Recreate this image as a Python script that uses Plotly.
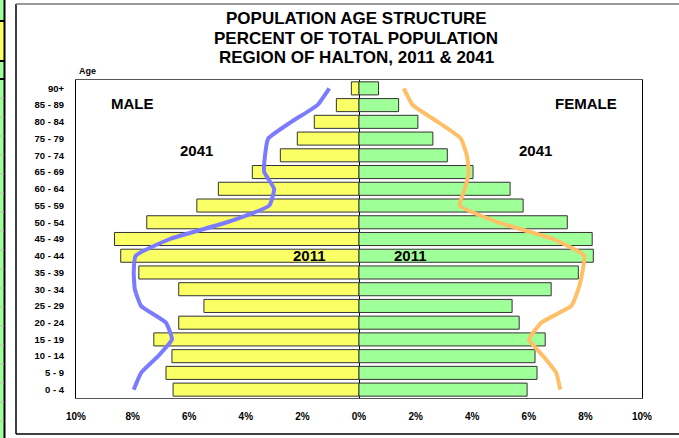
import plotly.graph_objects as go

# ---------------- data ----------------
ages = ["0 - 4", "5 - 9", "10 - 14", "15 - 19", "20 - 24", "25 - 29", "30 - 34",
        "35 - 39", "40 - 44", "45 - 49", "50 - 54", "55 - 59", "60 - 64",
        "65 - 69", "70 - 74", "75 - 79", "80 - 84", "85 - 89", "90+"]

male_2011 = [6.57, 6.82, 6.61, 7.25, 6.37, 5.48, 6.37, 7.78, 8.42, 8.64,
             7.50, 5.73, 4.97, 3.77, 2.78, 2.18, 1.58, 0.80, 0.27]
female_2011 = [5.94, 6.29, 6.22, 6.58, 5.66, 5.41, 6.79, 7.75, 8.28, 8.24,
               7.36, 5.80, 5.34, 4.03, 3.12, 2.61, 2.08, 1.40, 0.69]
male_2041 = [7.96, 7.70, 7.10, 6.61, 6.82, 7.70, 7.92, 7.96, 7.89, 6.68,
             4.66, 3.17, 3.00, 3.35, 3.32, 3.21, 2.39, 1.47, 1.05]
female_2041 = [7.11, 6.97, 6.51, 6.01, 6.44, 7.50, 7.75, 7.89, 7.96, 6.86,
               4.91, 3.56, 3.74, 3.88, 3.81, 3.60, 2.78, 1.90, 1.58]

x_tick_vals = [-10, -8, -6, -4, -2, 0, 2, 4, 6, 8, 10]
x_tick_text = ["10%", "8%", "6%", "4%", "2%", "0%", "2%", "4%", "6%", "8%", "10%"]

title_lines = ["POPULATION AGE STRUCTURE", "PERCENT OF TOTAL POPULATION",
               "REGION OF HALTON, 2011 & 2041"]

# ---------------- layout geometry ----------------
W, H = 679, 438
L, R, T, B = 76, 642, 80, 398
FONT = "Liberation Sans, Arial, sans-serif"


def px(x):
    return (x - L) / (R - L)


def py(y):
    return (B - y) / (B - T)


fig = go.Figure()

fig.add_trace(go.Bar(
    y=ages, x=[-v for v in male_2011], orientation="h", width=0.78,
    marker=dict(color="#FAFF66", line=dict(color="#333333", width=1)),
    name="Male 2011", hoverinfo="skip"))
fig.add_trace(go.Bar(
    y=ages, x=female_2011, orientation="h", width=0.78,
    marker=dict(color="#9FFF99", line=dict(color="#333333", width=1)),
    name="Female 2011", hoverinfo="skip"))
fig.add_trace(go.Scatter(
    y=ages, x=[-v for v in male_2041], mode="lines",
    line=dict(color="#7B7BFF", width=4, shape="spline", smoothing=0.4),
    name="Male 2041"))
fig.add_trace(go.Scatter(
    y=ages, x=female_2041, mode="lines",
    line=dict(color="#FFBF66", width=4, shape="spline", smoothing=0.4),
    name="Female 2041"))

shapes = []
# left decorative strip (spreadsheet cells)
shapes.append(dict(type="rect", xref="paper", yref="paper",
                   x0=px(0), x1=px(4), y0=py(0), y1=py(H),
                   fillcolor="#9FFF99", line=dict(width=0), layer="below"))
shapes.append(dict(type="rect", xref="paper", yref="paper",
                   x0=px(0), x1=px(4), y0=py(22), y1=py(61),
                   fillcolor="#FAFF66", line=dict(width=0), layer="below"))
shapes.append(dict(type="line", xref="paper", yref="paper",
                   x0=px(4.5), x1=px(4.5), y0=py(0), y1=py(H),
                   line=dict(color="black", width=2)))
for yy in [21, 61, 79]:
    shapes.append(dict(type="line", xref="paper", yref="paper",
                       x0=px(0), x1=px(4), y0=py(yy), y1=py(yy),
                       line=dict(color="black", width=2)))
yy = 98.0
while yy < H:
    shapes.append(dict(type="line", xref="paper", yref="paper",
                       x0=px(0), x1=px(4), y0=py(yy), y1=py(yy),
                       line=dict(color="#BBBBBB", width=1)))
    yy += 19.0
# outer frame
shapes.append(dict(type="line", xref="paper", yref="paper",
                   x0=px(16), x1=px(16), y0=py(4), y1=py(434),
                   line=dict(color="black", width=1.5)))
shapes.append(dict(type="line", xref="paper", yref="paper",
                   x0=px(16), x1=px(W), y0=py(4), y1=py(4),
                   line=dict(color="#777777", width=1.5)))
shapes.append(dict(type="line", xref="paper", yref="paper",
                   x0=px(16), x1=px(W), y0=py(434), y1=py(434),
                   line=dict(color="black", width=1.5)))

annotations = []
for i, t in enumerate(title_lines):
    annotations.append(dict(text=t, xref="paper", yref="paper",
                            x=px(356), y=py(18.5 + 19.5 * i), showarrow=False,
                            xanchor="center", yanchor="middle",
                            font=dict(family=FONT, size=17, color="black", weight="bold")))
annotations.append(dict(text="Age", xref="paper", yref="paper", x=px(77), y=py(71),
                        showarrow=False, xanchor="left", yanchor="middle",
                        font=dict(family=FONT, size=9, color="black", weight="bold")))
for txt, xx, yy2 in [("MALE", 132, 103), ("FEMALE", 586, 103),
                     ("2041", 196, 150), ("2041", 535, 150),
                     ("2011", 309, 255), ("2011", 410, 255)]:
    annotations.append(dict(text=txt, xref="paper", yref="paper", x=px(xx), y=py(yy2),
                            showarrow=False, xanchor="center", yanchor="middle",
                            font=dict(family=FONT, size=15, color="black", weight="bold")))

fig.update_layout(
    width=W, height=H,
    margin=dict(l=L, r=W - R, t=T, b=H - B, pad=0),
    paper_bgcolor="white", plot_bgcolor="white",
    barmode="overlay", bargap=0.2, showlegend=False,
    font=dict(family=FONT, color="black"),
    shapes=shapes, annotations=annotations,
    xaxis=dict(range=[-10, 10], tickvals=x_tick_vals, ticktext=x_tick_text,
               showgrid=False, zeroline=True, zerolinecolor="black", zerolinewidth=1,
               showline=True, linecolor="#555555", linewidth=1, mirror=True,
               ticks="", ticklabelstandoff=9,
               tickfont=dict(family=FONT, size=10, color="black", weight="bold"),
               fixedrange=True),
    yaxis=dict(type="category", categoryorder="array", categoryarray=ages,
               range=[-0.5, len(ages) - 0.5],
               showgrid=False, showline=True, linecolor="black", linewidth=1, mirror=True,
               ticks="", ticklabelstandoff=9,
               tickfont=dict(family=FONT, size=9.5, color="black", weight="bold"),
               fixedrange=True),
)

fig.write_html(
    "out.html",
    config={"displayModeBar": False},
    post_script="document.body.style.margin='0';document.body.style.overflow='hidden';",
)
